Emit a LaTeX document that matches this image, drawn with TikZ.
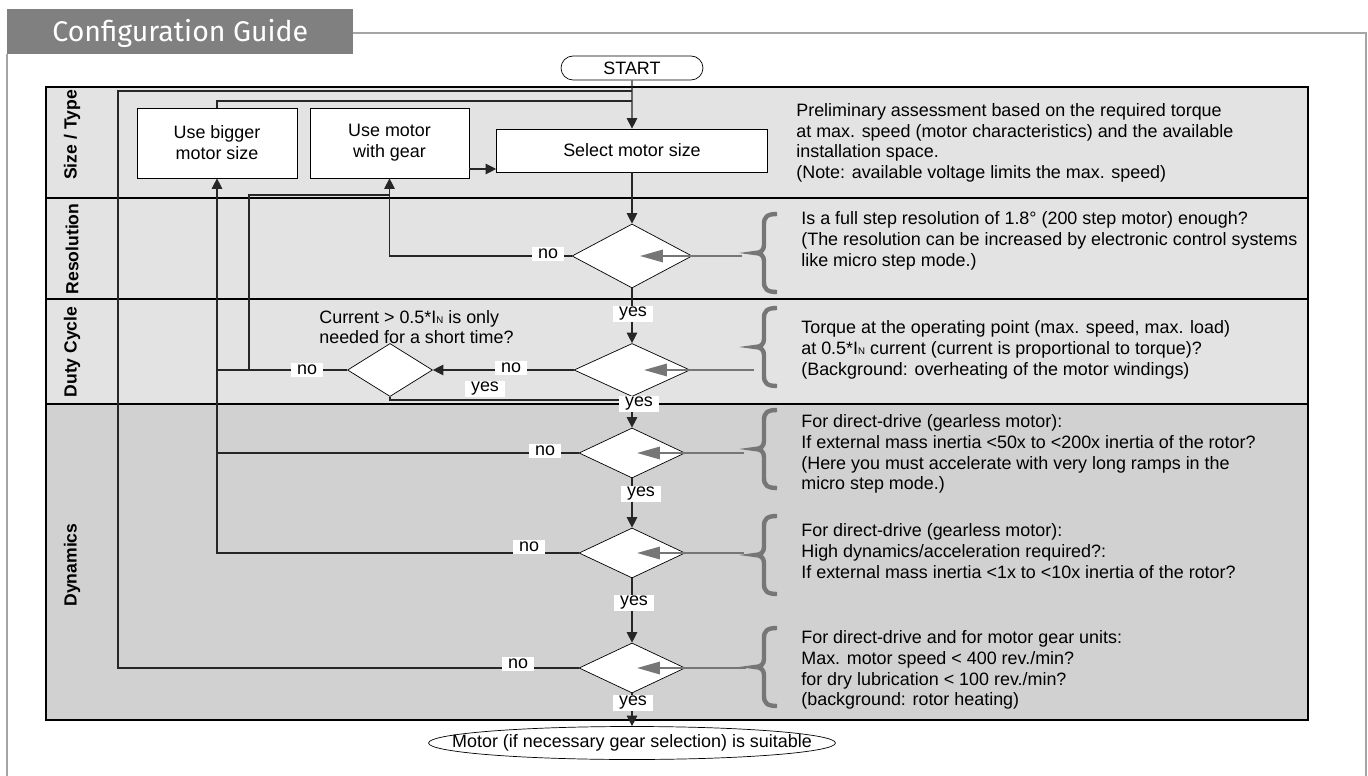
\documentclass[tikz,border=0pt]{standalone}
\usepackage{fontspec}
\setmainfont{Liberation Sans}
\newfontfamily\headfont{Fira Sans}
\usetikzlibrary{shapes.geometric, shapes.misc, arrows.meta, positioning, calc}
\definecolor{laneA}{RGB}{227,227,227}
\definecolor{laneB}{RGB}{209,209,209}
\definecolor{headgray}{RGB}{128,128,128}
\definecolor{hintgray}{RGB}{118,118,118}
\definecolor{framegray}{RGB}{165,165,165}
\newcommand{\IN}{I{\fontsize{5.5}{6}\selectfont N}}
\tikzset{
    stepbox/.style = {rectangle, draw=black, fill=white, align=center, inner sep=0pt, font=\fontsize{10.2}{12}\selectfont},
    terminal/.style = {rounded rectangle, draw=black, fill=white, minimum width=2.84cm, minimum height=0.48cm, inner sep=0pt, font=\fontsize{10.2}{12}\selectfont},
    check/.style = {diamond, draw=black, fill=white, inner sep=0pt},
    lane/.style = {draw=black, line width=0.6pt},
    lanetitle/.style = {rotate=90, font=\bfseries\fontsize{10}{12}\selectfont},
    note/.style = {anchor=west, align=left, inner sep=0pt, font=\fontsize{10.2}{11.8}\selectfont},
    flow/.style = {draw=black!85, line width=0.65pt},
    arrow/.style = {flow, -{Triangle[length=6pt, width=6pt]}},
    hint/.style = {draw=hintgray, line width=1.2pt, -{Triangle[length=13pt, width=7pt]}},
    tag/.style = {fill=white, inner xsep=3.5pt, inner ysep=1pt, font=\fontsize{10.2}{12}\selectfont},
    brace/.style = {draw=hintgray, line width=2.5pt},
    cbrace/.pic = {\draw[brace] (22,-39) .. controls (12,-39) and (9,-36) .. (9,-29) -- (9,-8) .. controls (9,-3) and (6,0) .. (0,0) .. controls (6,0) and (9,3) .. (9,8) -- (9,29) .. controls (9,36) and (12,39) .. (22,39);}
}
\begin{document}
\begin{tikzpicture}[x=0.02cm, y=-0.02cm]
\useasboundingbox (0,0) rectangle (1368,776);

\fill[headgray] (7,9) rectangle (353,54);
\node[anchor=base west, text=white, inner sep=0pt, font=\headfont\fontsize{16.2}{18}\selectfont] (title) at (52,42) {Configuration Guide};
\draw[framegray, line width=0.6pt] (7,54) -- (7,776) (353,33) -- (1366,33) -- (1366,776);

\draw[lane, fill=laneA] (46,87) rectangle (1308,198);
\draw[lane, fill=laneA] (46,198) rectangle (1308,299);
\draw[lane, fill=laneA] (46,299) rectangle (1308,404);
\draw[lane, fill=laneB] (46,404) rectangle (1308,720);

\node[lanetitle] (tsize) at (72,135) {Size / Type};
\node[lanetitle] (tres) at (72,249) {Resolution};
\node[lanetitle] (tduty) at (72,352) {Duty Cycle};
\node[lanetitle] (tdyn) at (72,565) {Dynamics};

\node[terminal] (start) at (632,68) {START};
\node[stepbox, minimum width=3.2cm, minimum height=1.4cm] (bigger) at (217,143) {Use bigger\\motor size};
\node[stepbox, minimum width=3.18cm, minimum height=1.4cm] (gear) at (389.5,143) {Use motor\\with gear};
\node[stepbox, minimum width=5.42cm, minimum height=0.86cm] (select) at (632,150.5) {Select motor size};

\node[check, minimum width=2.4cm, minimum height=1.28cm] (res) at (632,256) {};
\node[check, minimum width=2.32cm, minimum height=1.06cm] (duty) at (632,370) {};
\node[check, minimum width=1.7cm, minimum height=1.06cm] (short) at (390,370) {};
\node[check, minimum width=2.12cm, minimum height=1cm] (dynA) at (632,453) {};
\node[check, minimum width=2.12cm, minimum height=1cm] (dynB) at (632,553) {};
\node[check, minimum width=2.12cm, minimum height=1cm] (dynC) at (632,668) {};
\node[ellipse, draw=black, fill=white, minimum width=8.14cm, minimum height=0.66cm, inner sep=0pt,
      label={[font=\fontsize{10.2}{12}\selectfont]center:Motor (if necessary gear selection) is suitable}] (done) at (632,743) {};

\node[note] (shortq) at (319,327) {Current > 0.5*\IN{} is only\\needed for a short time?};

\node[note] (nsize) at (796,143) {Preliminary assessment based on the required torque\\at max. speed (motor characteristics) and the available\\installation space.\\(Note: available voltage limits the max. speed)};
\node[note] (nres) at (801,241) {Is a full step resolution of 1.8° (200 step motor) enough?\\(The resolution can be increased by electronic control systems\\like micro step mode.)};
\node[note] (nduty) at (801,350) {Torque at the operating point (max. speed, max. load)\\at 0.5*\IN{} current (current is proportional to torque)?\\(Background: overheating of the motor windings)};
\node[note] (ndynA) at (801,454) {For direct-drive (gearless motor):\\If external mass inertia <50x to <200x inertia of the rotor?\\(Here you must accelerate with very long ramps in the\\micro step mode.)};
\node[note] (ndynB) at (801,551) {For direct-drive (gearless motor):\\High dynamics/acceleration required?:\\If external mass inertia <1x to <10x inertia of the rotor?};
\node[note] (ndynC) at (801,670) {For direct-drive and for motor gear units:\\Max. motor speed < 400 rev./min?\\for dry lubrication < 100 rev./min?\\(background: rotor heating)};

\pic at (755,253) {cbrace};
\pic at (755,347) {cbrace};
\pic at (755,449) {cbrace};
\pic at (755,555) {cbrace};
\pic at (755,667) {cbrace};

\coordinate (loopcorner) at (118,91);
\coordinate (topjoin) at (632,101);
\coordinate (split) at (249,370);
\coordinate (gearjoin) at (389.5,195);
\coordinate (yesjoin) at (632,400);

\draw[arrow] (start) -- (select);
\draw[arrow] (select) -- (res);
\draw[arrow] (res) -- (duty);
\draw[arrow] (duty) -- (dynA);
\draw[arrow] (dynA) -- (dynB);
\draw[arrow] (dynB) -- (dynC);
\draw[arrow] (dynC) -- (done);

\draw[arrow] ([yshift=-0.52cm]gear.east) -- ([yshift=-0.52cm]gear.east -| select.west);
\draw[flow] (bigger.north) |- (topjoin);
\draw[flow] (dynC.west) -| (loopcorner) -- (loopcorner -| start);
\draw[arrow] (res.west) -| (gear.south);
\draw[arrow] (duty.west) -- (short.east);
\draw[flow] (short.west) -- (short.west -| bigger.south);
\draw[flow] (split) |- (gearjoin);
\draw[flow] (short.south) |- (yesjoin);
\draw[flow] (dynA.west) -- (dynA.west -| bigger.south);
\draw[arrow] (dynB.west) -| (bigger.south);

\node[tag] (nores) at (548,254) {no};
\node[tag] (noduty) at (511,368) {no};
\node[tag] (noshort) at (307,370) {no};
\node[tag] (yesshort) at (485,389) {yes};
\node[tag] (nodynA) at (545,451) {no};
\node[tag] (nodynB) at (529,547) {no};
\node[tag] (nodynC) at (518,664) {no};
\node[tag] (yesres) at (633,314) {yes};
\node[tag] (yesduty) at (639,404) {yes};
\node[tag] (yesdynA) at (641,494) {yes};
\node[tag] (yesdynB) at (634,603) {yes};
\node[tag] (yesdynC) at (633,703) {yes};

\coordinate (hres) at (742,256);
\coordinate (hduty) at (754,370);
\coordinate (hdynA) at (744,453);
\coordinate (hdynB) at (744,553);
\coordinate (hdynC) at (746,668);
\draw[hint] (hres) -- ([xshift=0.16cm]res.center);
\draw[hint] (hduty) -- ([xshift=0.24cm]duty.center);
\draw[hint] (hdynA) -- ([xshift=0.1cm]dynA.center);
\draw[hint] (hdynB) -- ([xshift=0.1cm]dynB.center);
\draw[hint] (hdynC) -- ([xshift=0.1cm]dynC.center);
\end{tikzpicture}
\end{document}
